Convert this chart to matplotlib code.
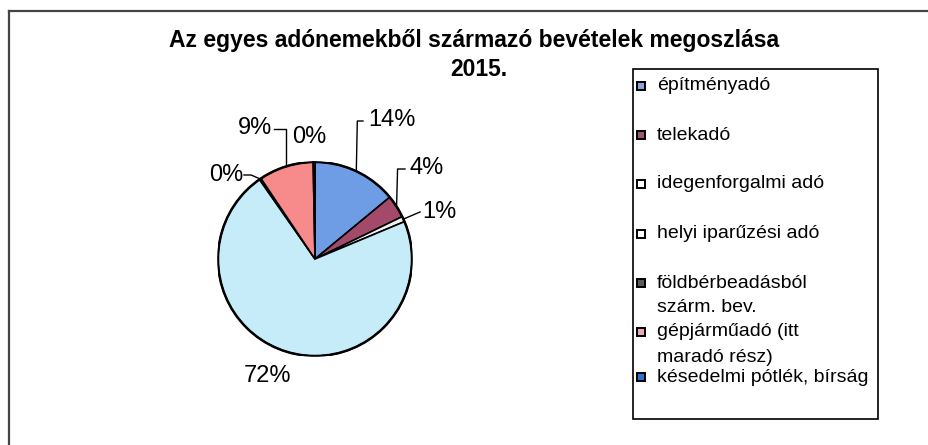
import matplotlib
matplotlib.use("Agg")
import matplotlib.pyplot as plt
import numpy as np
from matplotlib.patches import Rectangle

plt.rcParams['font.family'] = ['Liberation Sans', 'DejaVu Sans']

categories = ["építményadó", "telekadó", "idegenforgalmi adó", "helyi iparűzési adó",
              "földbérbeadásból\nszárm. bev.", "gépjárműadó (itt\nmaradó rész)",
              "késedelmi pótlék, bírság"]
values = [14.0, 3.8, 0.9, 71.6, 0.3, 9.1, 0.3]
labels = ["14%", "4%", "1%", "72%", "0%", "9%", "0%"]
colors = ["#6e9de6", "#a3496a", "#f2f2f2", "#c6ecfa", "#505050", "#f78a8a", "#2a64c0"]
legend_colors = ["#8fa3d6", "#9a5a6e", "#ffffff", "#ffffff", "#5a5a5a", "#e8a8b4", "#2f6fd0"]

W, H = 929, 445
fig = plt.figure(figsize=(W / 100, H / 100), dpi=100)

# overlay in pixel coordinates
ov = fig.add_axes([0, 0, 1, 1])
ov.set_xlim(0, W)
ov.set_ylim(H, 0)
ov.axis("off")

# outer frame (top and left)
ov.plot([9, W], [11, 11], color="#444444", lw=1.6)
ov.plot([9, 9], [11, H], color="#444444", lw=1.6)

# title
ov.text(474, 41, "Az egyes adónemekből származó bevételek megoszlása", ha="center", va="center",
        fontsize=16.5, fontweight="bold")
ov.text(479, 69, "2015.", ha="center", va="center", fontsize=16.5, fontweight="bold")

# pie
cx, cy, r = 315, 259, 97
pax = fig.add_axes([(cx - r) / W, (H - cy - r) / H, 2 * r / W, 2 * r / H])
wedges, _ = pax.pie(values, colors=colors, startangle=90, counterclock=False,
                    wedgeprops=dict(edgecolor="black", linewidth=1.2))
pax.add_patch(plt.Circle((0, 0), 1, fill=False, edgecolor="black", lw=1.8))
pax.set_xlim(-1, 1)
pax.set_ylim(-1, 1)
pax.axis("off")

# labels: (text x, text y, ha) in pixels, plus leader elbow style
lab_pos = [(368, 120, "left"), (410, 168, "left"), (422, 212, "left"), (268, 376, "center"),
           (243, 175, "right"), (272, 128, "right"), (309, 137, "center")]
fs = 17
for i, (w, lab) in enumerate(zip(wedges, labels)):
    ang = np.deg2rad((w.theta1 + w.theta2) / 2)
    rx, ry = cx + r * np.cos(ang), cy - r * np.sin(ang)
    tx, ty, ha = lab_pos[i]
    ov.text(tx, ty, lab, ha=ha, va="center", fontsize=fs)
    if i in (0, 1):
        ov.plot([rx, rx + 1, tx - 5], [ry, ty + 1, ty + 1], color="black", lw=1)
    elif i == 5:
        ov.plot([tx + 2, rx, rx], [ty + 1, ty + 1, ry], color="black", lw=1)
    elif i == 2:
        ov.plot([rx, tx - 2], [ry, ty], color="black", lw=1)
    elif i == 4:
        ov.plot([tx + 1, tx + 8, rx], [ty, ty, ry], color="black", lw=1)

# legend box
ov.add_patch(Rectangle((633, 69), 245, 350, fill=False, edgecolor="black", lw=1.2))
leg_y = [86, 135, 184, 234, 283, 332, 377]
lfs = 14
for yy, name, c in zip(leg_y, categories, legend_colors):
    ov.add_patch(Rectangle((637, yy - 4), 8, 8, facecolor=c, edgecolor="black", lw=1.4))
    lines = name.split("\n")
    for k, ln in enumerate(lines):
        ov.text(657, yy + 25 * k, ln, ha="left", va="center", fontsize=lfs)

fig.savefig("out.png", dpi=100)
